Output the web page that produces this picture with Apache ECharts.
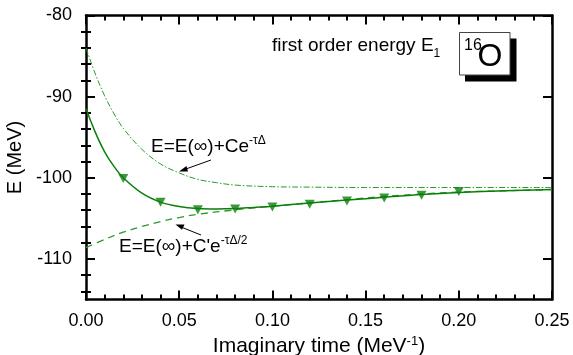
<!DOCTYPE html>
<html>
<head>
<meta charset="utf-8">
<script src="https://cdn.jsdelivr.net/npm/echarts@6/dist/echarts.min.js"></script>
<style>
html,body{margin:0;padding:0;background:#fff;}
#c{width:573px;height:355px;}
</style>
</head>
<body>
<div id="c"></div>
<script>
// ---- data ----
const xTickValues = [0, 0.05, 0.10, 0.15, 0.20, 0.25];
const xTickLabels = ['0.00', '0.05', '0.10', '0.15', '0.20', '0.25'];
const yTickValues = [-110, -100, -90, -80];
const yTickLabels = ['-110', '-100', '-90', '-80'];
const yMinorValues = [-114, -112, -108, -106, -104, -102, -98, -96, -94, -92, -88, -86, -84, -82];

// full fit E(tau) (solid)
const tauSolid = [0, 0.005, 0.01, 0.015, 0.02, 0.03, 0.04, 0.05, 0.06, 0.07, 0.08, 0.09, 0.10, 0.12, 0.14, 0.16, 0.18, 0.20, 0.225, 0.25];
const eSolid   = [-91.5, -94.4, -96.8, -98.6, -100.0, -101.9, -103.0, -103.55, -103.8, -103.85, -103.8, -103.65, -103.5, -103.1, -102.75, -102.4, -102.05, -101.8, -101.6, -101.45];

// E(inf)+C e^{-tau Delta} (dash-dot)
const tauDD = [0, 0.005, 0.01, 0.015, 0.02, 0.03, 0.04, 0.05, 0.06, 0.07, 0.08, 0.10, 0.12, 0.15, 0.20, 0.25];
const eDD   = [-84.0, -87.2, -89.9, -92.1, -93.9, -96.5, -98.3, -99.4, -100.2, -100.6, -100.9, -101.1, -101.15, -101.2, -101.2, -101.2];

// E(inf)+C' e^{-tau Delta/2} (dashed)
const tauDash = [0, 0.01, 0.02, 0.03, 0.04, 0.05, 0.06, 0.08, 0.10, 0.12, 0.14, 0.16, 0.18, 0.20, 0.225, 0.25];
const eDash   = [-108.6, -107.6, -106.7, -106.0, -105.4, -104.9, -104.5, -103.95, -103.5, -103.1, -102.7, -102.3, -102.0, -101.75, -101.6, -101.45];

// computed points (triangles)
const tauPts = [0.02, 0.04, 0.06, 0.08, 0.10, 0.12, 0.14, 0.16, 0.18, 0.20];
const ePts   = [-100.1, -103.0, -103.95, -103.85, -103.6, -103.25, -102.85, -102.5, -102.15, -101.7];

const zip = (a, b) => a.map((v, i) => [v, b[i]]);
const GREEN = '#0a800a';
const FONT = '"Liberation Sans", Arial, sans-serif';

const chart = echarts.init(document.getElementById('c'), null, {renderer: 'canvas'});

const axisLineStyle = {color: '#000', width: 2.5};
const tickStyle = {color: '#000', width: 2};

const baseX = {
  type: 'value', min: 0, max: 0.25, interval: 0.05,
  splitLine: {show: false},
  axisLine: {show: true, onZero: false, lineStyle: axisLineStyle},
  axisTick: {show: true, inside: true, length: 9, lineStyle: tickStyle},
  minorTick: {show: true, splitNumber: 5, length: 5, lineStyle: tickStyle},
  minorSplitLine: {show: false}
};

const baseY = {
  type: 'value', min: -115, max: -80,
  splitLine: {show: false}
};

chart.setOption({
  animation: false,
  backgroundColor: '#fff',
  textStyle: {fontFamily: FONT},
  grid: {left: 86, right: 21, top: 15.5, bottom: 55.5, containLabel: false, outerBoundsMode: 'none'},
  xAxis: [
    Object.assign({}, baseX, {
      position: 'bottom',
      axisLabel: {show: true, fontSize: 18, color: '#000', margin: 13, fontFamily: FONT,
        formatter: v => xTickLabels[xTickValues.findIndex(t => Math.abs(t - v) < 1e-9)]},
      name: 'Imaginary time (MeV{s|-1})',
      nameLocation: 'middle', nameGap: 33,
      nameTextStyle: {fontSize: 21, color: '#000', fontFamily: FONT,
        rich: {s: {fontSize: 13, verticalAlign: 'top', lineHeight: 13, fontFamily: FONT, color: '#000'}}}
    }),
    Object.assign({}, baseX, {
      position: 'top',
      axisLabel: {show: false}
    })
  ],
  yAxis: [
    Object.assign({}, baseY, {
      position: 'left',
      axisLine: {show: true, onZero: false, lineStyle: axisLineStyle},
      axisTick: {show: true, inside: true, length: 9, lineStyle: tickStyle, customValues: yTickValues},
      axisLabel: {show: true, fontSize: 18, color: '#000', margin: 14, fontFamily: FONT, customValues: yTickValues,
        formatter: v => yTickLabels[yTickValues.indexOf(Math.round(v))]},
      name: 'E (MeV)', nameLocation: 'middle', nameGap: 58, nameRotate: 90,
      nameTextStyle: {fontSize: 20, color: '#000', fontFamily: FONT}
    }),
    Object.assign({}, baseY, {
      position: 'left',
      axisLine: {show: false},
      axisTick: {show: true, inside: true, length: 5, lineStyle: tickStyle, customValues: yMinorValues},
      axisLabel: {show: false}
    }),
    Object.assign({}, baseY, {
      position: 'right',
      axisLine: {show: true, onZero: false, lineStyle: axisLineStyle},
      axisTick: {show: true, inside: true, length: 9, lineStyle: tickStyle, customValues: yTickValues},
      axisLabel: {show: false}
    }),
    Object.assign({}, baseY, {
      position: 'right',
      axisLine: {show: false},
      axisTick: {show: true, inside: true, length: 5, lineStyle: tickStyle, customValues: yMinorValues},
      axisLabel: {show: false}
    })
  ],
  series: [
    {
      name: 'dashdot', type: 'line', xAxisIndex: 0, yAxisIndex: 0,
      data: zip(tauDD, eDD), smooth: 0.35, showSymbol: false, symbol: 'none',
      lineStyle: {color: '#2a9a2a', width: 1, type: [6, 2, 1.5, 2]}, z: 2
    },
    {
      name: 'dashed', type: 'line', xAxisIndex: 0, yAxisIndex: 0,
      data: zip(tauDash, eDash), smooth: 0.35, showSymbol: false, symbol: 'none',
      lineStyle: {color: '#2a9a2a', width: 1.3, type: [7, 5]}, z: 2
    },
    {
      name: 'solid', type: 'line', xAxisIndex: 0, yAxisIndex: 0,
      data: zip(tauSolid, eSolid), smooth: 0.35, showSymbol: false, symbol: 'none',
      lineStyle: {color: GREEN, width: 1.5, type: 'solid'}, z: 3
    },
    {
      name: 'points', type: 'scatter', xAxisIndex: 0, yAxisIndex: 0,
      data: zip(tauPts, ePts),
      symbol: 'triangle', symbolRotate: 180, symbolSize: [10, 9],
      itemStyle: {color: GREEN}, z: 4
    }
  ],
  graphic: [
    // annotation 1
    {type: 'text', x: 151, y: 147, z: 10, style: {
      text: '{m|E=E(∞)+Ce}{s|-τΔ}', verticalAlign: 'middle', align: 'left',
      rich: {
        m: {fontSize: 19, fontFamily: FONT, fill: '#000', lineHeight: 24, verticalAlign: 'middle'},
        s: {fontSize: 12, fontFamily: FONT, fill: '#000', lineHeight: 14, verticalAlign: 'top'}
      }}},
    {type: 'line', z: 10, shape: {x1: 211, y1: 160, x2: 185, y2: 169.3}, style: {stroke: '#000', lineWidth: 1}},
    {type: 'polygon', z: 10, shape: {points: [[179, 171.5], [186.5, 166], [188, 171.5]]}, style: {fill: '#000'}},
    // annotation 2
    {type: 'text', x: 119, y: 247, z: 10, style: {
      text: "{m|E=E(∞)+C'e}{s|-τΔ/2}", verticalAlign: 'middle', align: 'left',
      rich: {
        m: {fontSize: 19, fontFamily: FONT, fill: '#000', lineHeight: 24, verticalAlign: 'middle'},
        s: {fontSize: 12, fontFamily: FONT, fill: '#000', lineHeight: 14, verticalAlign: 'top'}
      }}},
    {type: 'line', z: 10, shape: {x1: 201, y1: 235, x2: 181, y2: 227}, style: {stroke: '#000', lineWidth: 1}},
    {type: 'polygon', z: 10, shape: {points: [[175.5, 224.5], [184.5, 224.5], [182, 229.8]]}, style: {fill: '#000'}},
    // label
    {type: 'text', x: 272, y: 46, z: 10, style: {
      text: '{m|first order energy E}{s|1}', verticalAlign: 'middle', align: 'left',
      rich: {
        m: {fontSize: 19, fontFamily: FONT, fill: '#000', lineHeight: 28, verticalAlign: 'middle'},
        s: {fontSize: 12, fontFamily: FONT, fill: '#000', lineHeight: 12, verticalAlign: 'bottom'}
      }}},
    // 16O box with shadow
    {type: 'rect', z: 10, shape: {x: 465, y: 38.5, width: 51.5, height: 43}, style: {fill: '#000'}},
    {type: 'rect', z: 11, shape: {x: 459.5, y: 32.5, width: 50.5, height: 42.5}, style: {fill: '#fff', stroke: '#444', lineWidth: 1}},
    {type: 'text', x: 464, y: 46, z: 12, style: {text: '16', fontSize: 16, fontFamily: FONT, fill: '#000', verticalAlign: 'middle', align: 'left'}},
    {type: 'text', x: 477.5, y: 57, z: 12, style: {text: 'O', fontSize: 32, fontFamily: FONT, fill: '#000', verticalAlign: 'middle', align: 'left'}}
  ]
});
</script>
</body>
</html>
